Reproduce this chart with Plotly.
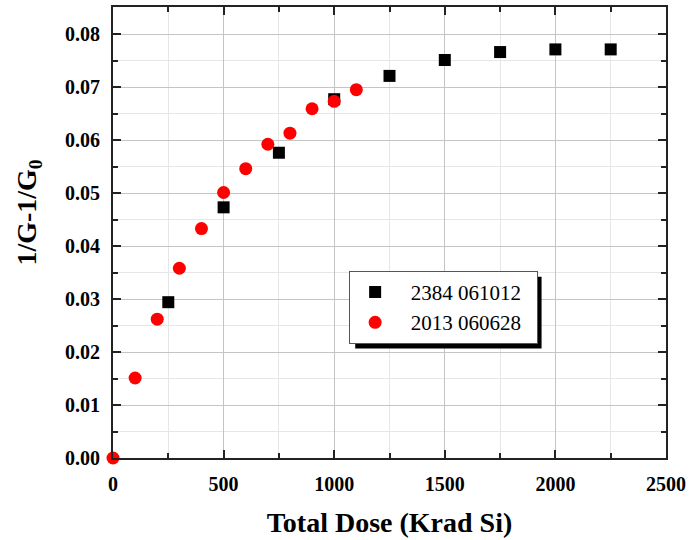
import plotly.graph_objects as go

# Data
black_x = [250, 500, 750, 1000, 1250, 1500, 1750, 2000, 2250]
black_y = [0.0294, 0.0473, 0.0576, 0.0677, 0.0721, 0.0751, 0.0766, 0.0771, 0.0771]
red_x = [0, 100, 200, 300, 400, 500, 600, 700, 800, 900, 1000, 1100]
red_y = [0.0, 0.0151, 0.0262, 0.0358, 0.0433, 0.0501, 0.0546, 0.0592, 0.0613, 0.0659, 0.0673, 0.0695]
names = ["2384 061012", "2013 060628"]

serif = "Liberation Serif"
pad = "\u00a0"

fig = go.Figure()
fig.add_trace(go.Scatter(x=black_x, y=black_y, mode="markers", name=pad * 2 + names[0] + pad * 2,
                         marker=dict(symbol="square", size=12, color="black")))
fig.add_trace(go.Scatter(x=red_x, y=red_y, mode="markers", name=pad * 2 + names[1] + pad * 2,
                         marker=dict(symbol="circle", size=13, color="#ff0000"), cliponaxis=False))

axis_common = dict(
    showline=True, linecolor="#222", linewidth=2, mirror="ticks",
    ticks="inside", ticklen=8, tickwidth=2, tickcolor="#222",
    showgrid=True, gridcolor="#c4c4c4", gridwidth=1,
    zeroline=False, ticklabelstandoff=7,
    tickfont=dict(family=serif, size=20, color="black", weight="bold"),
)

fig.update_xaxes(range=[0, 2500], dtick=500, tick0=0,
                 minor=dict(dtick=250, ticks="inside", ticklen=5, tickcolor="#222",
                            showgrid=True, gridcolor="#e6e6e6"),
                 title=dict(text="Total Dose (Krad Si)", font=dict(family=serif, size=28, color="black", weight="bold"),
                            standoff=18),
                 **axis_common)
fig.update_yaxes(range=[0, 0.0851], dtick=0.01, tick0=0, tickformat=".2f",
                 minor=dict(dtick=0.005, ticks="inside", ticklen=5, tickcolor="#222",
                            showgrid=True, gridcolor="#e6e6e6"),
                 **axis_common)

# y-axis title as rotated annotation
fig.add_annotation(text="1/G-1/G<sub>0</sub>", xref="paper", yref="paper",
                   x=-0.153, y=0.545, xanchor="center", yanchor="middle", textangle=-90,
                   showarrow=False, font=dict(family=serif, size=28, color="black", weight="bold"))

# legend shadow
fig.add_shape(type="rect", xref="paper", yref="paper",
              x0=0.438, x1=0.775, y0=0.243, y1=0.402,
              fillcolor="black", line=dict(width=0), layer="above")

fig.update_layout(
    width=691, height=540,
    margin=dict(l=113, r=23, t=5, b=82),
    plot_bgcolor="white", paper_bgcolor="white",
    showlegend=True,
    legend=dict(x=0.427, y=0.415, xanchor="left", yanchor="top",
                bgcolor="white", bordercolor="#555", borderwidth=1,
                font=dict(family=serif, size=21, color="black"),
                itemwidth=40, tracegroupgap=0),
)

fig.write_html("out.html")
